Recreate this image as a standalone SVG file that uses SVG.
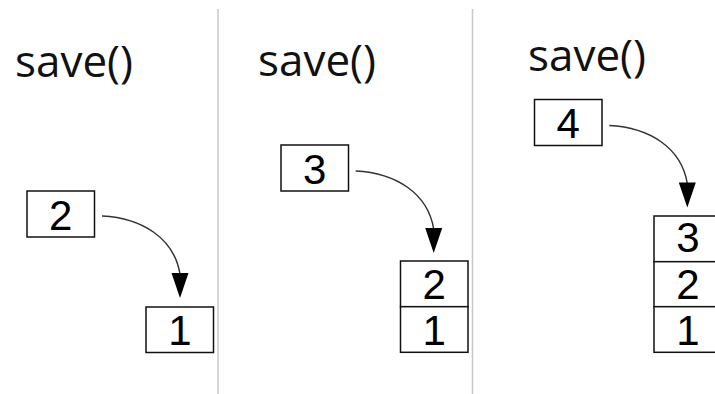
<svg xmlns="http://www.w3.org/2000/svg" width="715" height="394" viewBox="0 0 715 394">
  <style>
    .title { font-family: "Open Sans", "DejaVu Sans", sans-serif; font-size: 44px; fill: #111; }
    .cell { fill: #fff; stroke: #111; stroke-width: 1.5; }
    .num { font-family: "Liberation Sans", Arial, sans-serif; font-size: 42px; fill: #000; text-anchor: middle; }
    .divider { stroke: #c8c8c8; stroke-width: 1.5; }
    .curve { fill: none; stroke: #333; stroke-width: 1.5; }
    .head { fill: #000; }
  </style>
  <defs>
    <!-- curved push arrow: origin at the tail, head pointing down -->
    <g id="push-arrow">
      <path class="curve" d="M0,0 C40,2 72,22 78,58"/>
      <polygon class="head" points="69.5,57 86.5,57 78,82"/>
    </g>
  </defs>

  <!-- panel separators -->
  <line class="divider" x1="218" y1="9" x2="218" y2="394"/>
  <line class="divider" x1="472.5" y1="9" x2="472.5" y2="394"/>

  <!-- headings -->
  <text class="title" x="15" y="77">save()</text>
  <text class="title" x="258" y="75.5">save()</text>
  <text class="title" x="528" y="70.5">save()</text>

  <!-- panel 1 -->
  <g id="p1-new2">
    <rect class="cell" x="27" y="191" width="67.5" height="46"/>
    <text class="num" x="60.7" y="230">2</text>
  </g>
  <g id="p1-stack">
    <rect class="cell" x="146" y="307" width="67.5" height="45.5"/>
    <text class="num" x="180" y="345">1</text>
  </g>

  <!-- panel 2 -->
  <g id="p2-new3">
    <rect class="cell" x="281" y="145" width="67.5" height="46"/>
    <text class="num" x="314.7" y="184">3</text>
  </g>
  <g id="p2-stack">
    <rect class="cell" x="400.5" y="261" width="67.5" height="45.7"/>
    <rect class="cell" x="400.5" y="306.7" width="67.5" height="45.6"/>
    <text class="num" x="434.2" y="298.5">2</text>
    <text class="num" x="434.2" y="345">1</text>
  </g>

  <!-- panel 3 -->
  <g id="p3-new4">
    <rect class="cell" x="534.5" y="99.5" width="67.5" height="46"/>
    <text class="num" x="568.2" y="138">4</text>
  </g>
  <g id="p3-stack">
    <rect class="cell" x="654" y="216" width="68" height="45.7"/>
    <rect class="cell" x="654" y="261.7" width="68" height="45"/>
    <rect class="cell" x="654" y="306.7" width="68" height="45.6"/>
    <text class="num" x="688" y="252">3</text>
    <text class="num" x="688" y="298.5">2</text>
    <text class="num" x="688" y="345">1</text>
  </g>

  <!-- connectors -->
  <g id="connectors">
    <use href="#push-arrow" transform="translate(102,216)"/>
    <use href="#push-arrow" transform="translate(355.7,171)"/>
    <use href="#push-arrow" transform="translate(609.3,125.5)"/>
  </g>
</svg>
